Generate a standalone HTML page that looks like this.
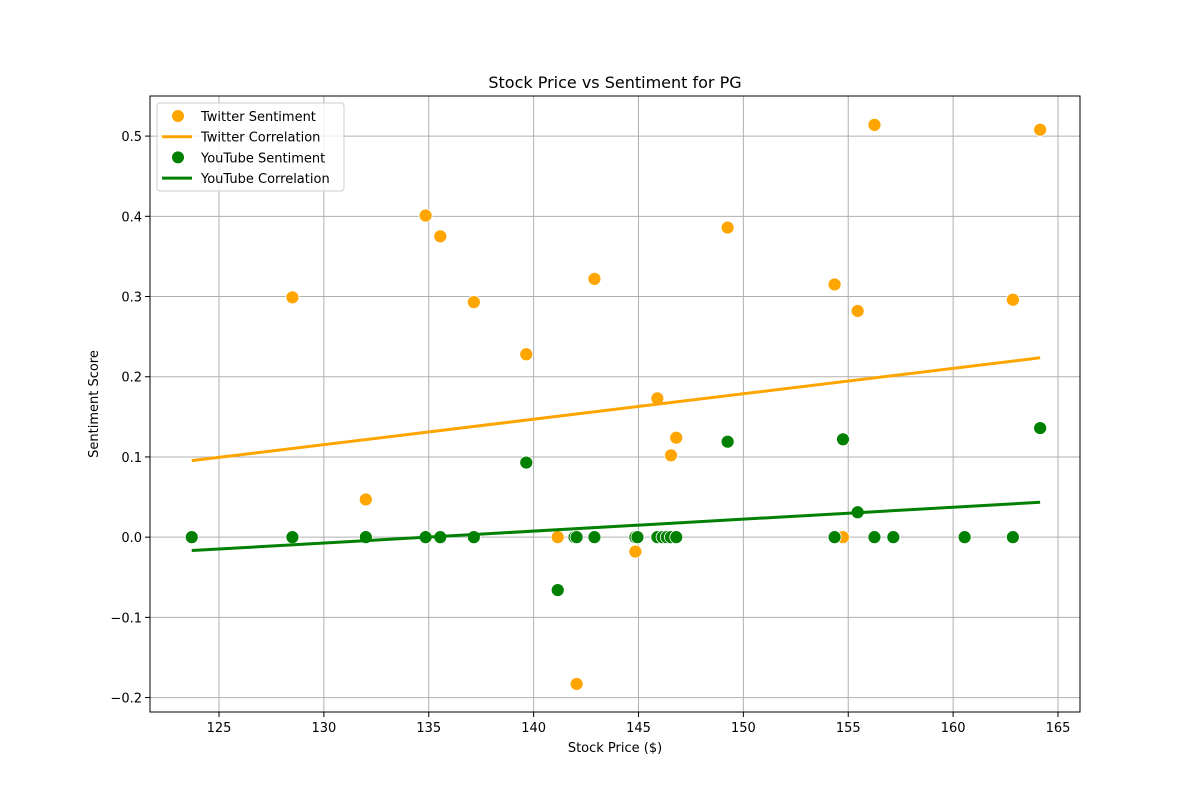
<!DOCTYPE html>
<html><head><meta charset="utf-8"><style>
body{margin:0;background:#fff;font-family:"DejaVu Sans","Liberation Sans",sans-serif;}
svg text{font-family:"DejaVu Sans","Liberation Sans",sans-serif;}
</style></head><body>
<svg id="chart" width="1200" height="800"></svg>
<script>
const prices=[123.7,128.5,132.0,134.85,135.55,137.15,139.65,141.15,141.95,142.05,142.9,144.85,144.95,145.9,146.15,146.35,146.55,146.8,149.25,154.35,154.75,155.45,156.25,157.15,160.55,162.85,164.15];
const twitter=[0,0.299,0.047,0.401,0.375,0.293,0.228,0,0,-0.183,0.322,-0.018,0,0.173,0,0,0.102,0.124,0.386,0.315,0,0.282,0.514,0,0,0.296,0.508];
const youtube=[0,0,0,0,0,0,0.093,-0.066,0,0,0,0,0,0,0,0,0,0,0.119,0,0.122,0.031,0,0,0,0,0.136];
const xTicks=[125,130,135,140,145,150,155,160,165];
const yTicks=[-0.2,-0.1,0,0.1,0.2,0.3,0.4,0.5];
const L=150,R=1080,T=96,B=712;
const xMin=121.71,xMax=166.05,yMin=-0.218,yMax=0.55;
const sx=v=>L+(v-xMin)/(xMax-xMin)*(R-L);
const sy=v=>B-(v-yMin)/(yMax-yMin)*(B-T);
const svg=document.getElementById('chart');
const NS='http://www.w3.org/2000/svg';
function mk(tag,attrs,parent){const e=document.createElementNS(NS,tag);for(const k in attrs)e.setAttribute(k,attrs[k]);(parent||svg).appendChild(e);return e;}
function txt(s,attrs){const e=mk('text',attrs);e.textContent=s;return e;}
xTicks.forEach(t=>{const g=mk('line',{x1:sx(t),x2:sx(t),y1:T,y2:B,stroke:'#b0b0b0','stroke-width':1});


const tk=mk('line',{x1:sx(t),x2:sx(t),y1:B,y2:B+5,stroke:'#000'});


const l=txt(String(t),{x:sx(t),y:B+20,'text-anchor':'middle','font-size':13});

});
yTicks.forEach(t=>{const g=mk('line',{x1:L,x2:R,y1:sy(t),y2:sy(t),stroke:'#b0b0b0','stroke-width':1});


const tk=mk('line',{x1:L-5,x2:L,y1:sy(t),y2:sy(t),stroke:'#000'});


const l=txt((t<0?'\u2212':'')+Math.abs(t).toFixed(1),{x:L-8,y:sy(t)+5,'text-anchor':'end','font-size':13});

});
function fit(xs,ys){const n=xs.length;const mx=xs.reduce((a,b)=>a+b)/n,my=ys.reduce((a,b)=>a+b)/n;let sxy=0,sxx=0;for(let i=0;i<n;i++){sxy+=(xs[i]-mx)*(ys[i]-my);sxx+=(xs[i]-mx)**2;}const m=sxy/sxx;return[m,my-m*mx];}
function series(vals,color,name){
  vals.forEach((v,i)=>{const c=mk('circle',{cx:sx(prices[i]),cy:sy(v),r:6.5,fill:color,stroke:'#fff','stroke-width':0.8});
  
  });
}
function line(vals,color,name){
  const [m,b]=fit(prices,vals);const x0=Math.min(...prices),x1=Math.max(...prices);
  const l=mk('line',{x1:sx(x0),y1:sy(m*x0+b),x2:sx(x1),y2:sy(m*x1+b),stroke:color,'stroke-width':3});
  
  
}
series(twitter,'orange','twitter');
line(twitter,'orange','twitter');
series(youtube,'green','youtube');
line(youtube,'green','youtube');
const frame=mk('rect',{x:L,y:T,width:R-L,height:B-T,fill:'none',stroke:'#000','stroke-width':1});


const title=txt('Stock Price vs Sentiment for PG',{x:(L+R)/2,y:88,'text-anchor':'middle','font-size':16});


const xl=txt('Stock Price ($)',{x:(L+R)/2,y:752,'text-anchor':'middle','font-size':13});


const yl=txt('Sentiment Score',{x:98,y:(T+B)/2,'text-anchor':'middle','font-size':13,transform:`rotate(-90 98 ${(T+B)/2})`});


const lg=mk('rect',{x:157,y:103,width:187,height:88,rx:3,fill:'rgba(255,255,255,0.8)',stroke:'#ccc'});


const items=[['Twitter Sentiment','orange','dot'],['Twitter Correlation','orange','line'],['YouTube Sentiment','green','dot'],['YouTube Correlation','green','line']];
items.forEach((it,i)=>{const y=116+i*20.7;
 let m;
 if(it[2]=='dot')m=mk('circle',{cx:178,cy:y,r:6,fill:it[1]});else m=mk('line',{x1:162,x2:192,y1:y,y2:y,stroke:it[1],'stroke-width':3});
 
 
 const t=txt(it[0],{x:201,y:y+5,'font-size':13});
 
 });
</script>
</body></html>
